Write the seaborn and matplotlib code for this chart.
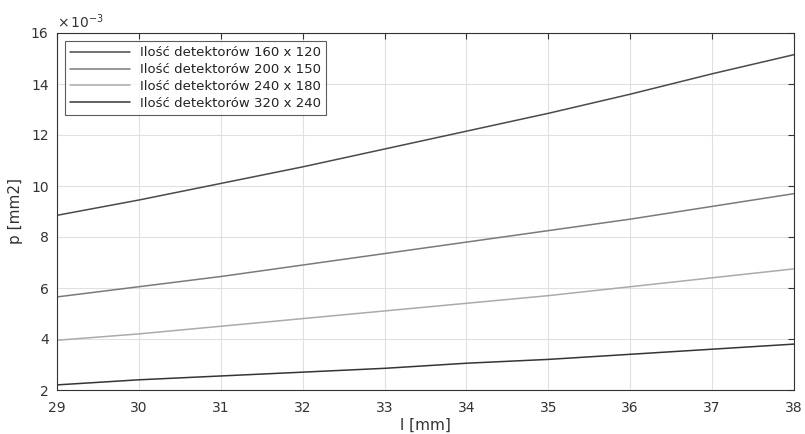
import matplotlib
matplotlib.use("Agg")
import matplotlib.pyplot as plt
import seaborn as sns
import pandas as pd
import numpy as np

l_mm = [29, 30, 31, 32, 33, 34, 35, 36, 37, 38]
p_160x120 = [8.85, 9.45, 10.1, 10.75, 11.45, 12.15, 12.85, 13.6, 14.4, 15.15]
p_200x150 = [5.65, 6.05, 6.45, 6.9, 7.35, 7.8, 8.25, 8.7, 9.2, 9.7]
p_240x180 = [3.95, 4.2, 4.5, 4.8, 5.1, 5.4, 5.7, 6.05, 6.4, 6.75]
p_320x240 = [2.2, 2.4, 2.55, 2.7, 2.85, 3.05, 3.2, 3.4, 3.6, 3.8]
labels = ["Ilość detektorów 160 x 120", "Ilość detektorów 200 x 150",
          "Ilość detektorów 240 x 180", "Ilość detektorów 320 x 240"]
colors = ["#4a4a4a", "#7a7a7a", "#ababab", "#353535"]

rows = []
for lab, vals in zip(labels, [p_160x120, p_200x150, p_240x180, p_320x240]):
    for x, v in zip(l_mm, vals):
        rows.append({"l": x, "p": v, "series": lab})
df = pd.DataFrame(rows)

sns.set_style("white")
plt.rcParams['font.family'] = ['DejaVu Sans']

fig = plt.figure(figsize=(8.05, 4.34), dpi=100)
ax = fig.add_axes([57/805, 1 - 390/434, (794-57)/805, (390-33)/434])
sns.lineplot(data=df, x="l", y="p", hue="series", palette=colors, ax=ax,
             linewidth=1.1, legend=True)
ax.set_xlim(29, 38)
ax.set_ylim(2, 16)
ax.set_xticks(range(29, 39))
ax.set_yticks(range(2, 17, 2))
ax.grid(True, color="#e0e0e0", linewidth=0.8)
ax.tick_params(direction="in", length=4, labelsize=10, colors="#333333", top=True, right=True)
ax.tick_params(axis="x", pad=8)
ax.tick_params(axis="y", pad=6)
for s in ax.spines.values():
    s.set_color("#333333")
    s.set_linewidth(0.8)
ax.set_xlabel("l [mm]", fontsize=11, color="#333333", labelpad=2)
ax.set_ylabel("p [mm2]", fontsize=11, color="#333333", labelpad=6)
ax.text(0.0, 1.005, r"$\times\,10^{-3}$", transform=ax.transAxes, fontsize=10,
        color="#333333", va="bottom", ha="left")
leg = ax.legend(loc="upper left", fontsize=9.5, frameon=True, fancybox=False,
                edgecolor="#333333", borderaxespad=0.6, handlelength=4.5,
                labelspacing=0.3)
leg.get_frame().set_linewidth(0.8)
for t in leg.get_texts():
    t.set_color("#222222")
fig.savefig("out.png", dpi=100)
